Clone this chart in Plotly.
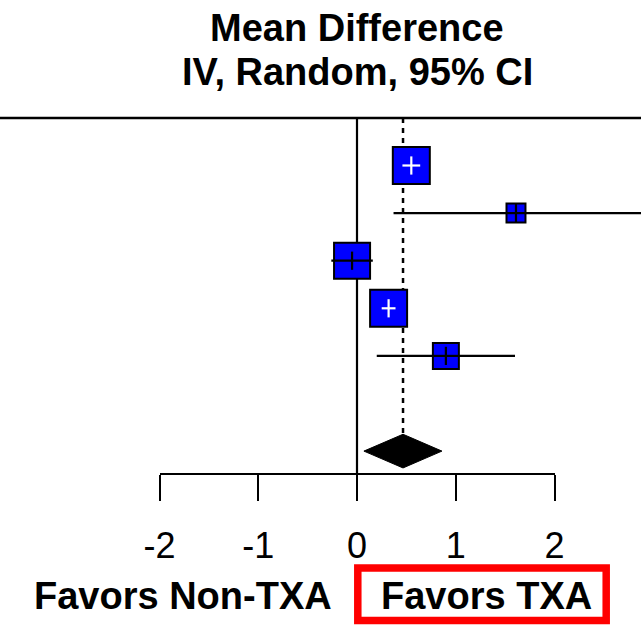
import math
import plotly.graph_objects as go

# ---------------- data ----------------
study_rows = [0, 1, 2, 3, 4]
study_md = [0.55, 1.61, -0.05, 0.32, 0.90]
study_lo = [0.46, 0.37, -0.26, 0.25, 0.20]
study_hi = [0.64, 3.20, 0.16, 0.39, 1.60]
study_weight = [26.6, 7.7, 25.3, 26.6, 13.7]

pooled_row = 6
pooled_md = 0.466
pooled_lo = 0.07
pooled_hi = 0.86

tick_values = [-2, -1, 0, 1, 2]
tick_labels = ["-2", "-1", "0", "1", "2"]

title_lines = ["Mean Difference", "IV, Random, 95% CI"]
left_label = "Favors Non-TXA"
right_label = "Favors TXA"

# ---------------- geometry / style ----------------
W, H = 641, 625
X0_PX, PX_PER_UNIT = 357.0, 98.75
ROW0_PX, PX_PER_ROW = 165.5, 47.6
x_range = [-X0_PX / PX_PER_UNIT, (W - X0_PX) / PX_PER_UNIT]
y_range = [(H - ROW0_PX) / PX_PER_ROW, -ROW0_PX / PX_PER_ROW]

TOP_ROW = -1
AXIS_PX = 474.0
AXIS_PAPER_Y = 1 - AXIS_PX / H
AXIS_ROW = (AXIS_PX - ROW0_PX) / PX_PER_ROW
DIAMOND_HALF = 0.354

FONT = "Arial, 'Liberation Sans', sans-serif"
BLUE = "#0000FF"
BOLD_SIZE = 38

sizes = [7.56 * math.sqrt(w) - 2 for w in study_weight]

fig = go.Figure()

# reference lines
fig.add_trace(go.Scatter(x=[0, 0], y=[TOP_ROW, AXIS_ROW], mode="lines",
                         line=dict(color="black", width=2.2), hoverinfo="skip"))
fig.add_trace(go.Scatter(x=[pooled_md, pooled_md], y=[TOP_ROW, pooled_row - DIAMOND_HALF],
                         mode="lines", line=dict(color="black", width=2.5, dash="5px,5px"),
                         hoverinfo="skip"))

# CI lines (black)
for r, lo, hi in zip(study_rows, study_lo, study_hi):
    fig.add_trace(go.Scatter(x=[lo, hi], y=[r, r], mode="lines",
                             line=dict(color="black", width=2.2), hoverinfo="skip"))

# squares
fig.add_trace(go.Scatter(x=study_md, y=study_rows, mode="markers",
                         marker=dict(symbol="square", size=sizes, color=BLUE, opacity=1,
                                     line=dict(color="black", width=2)),
                         hoverinfo="skip"))

# CI inside the square drawn white, otherwise black
tick_colors = []
for r, m, lo, hi, s in zip(study_rows, study_md, study_lo, study_hi, sizes):
    half = s / 2 / PX_PER_UNIT
    inside = (m - lo) < half and (hi - m) < half
    c = "white" if inside else "black"
    tick_colors.append(c)
    if inside:
        fig.add_trace(go.Scatter(x=[lo, hi], y=[r, r], mode="lines",
                                 line=dict(color="white", width=2.2), hoverinfo="skip"))
    else:
        fig.add_trace(go.Scatter(x=[max(lo, m - half), min(hi, m + half)], y=[r, r],
                                 mode="lines", line=dict(color="black", width=2.2),
                                 hoverinfo="skip"))
fig.add_trace(go.Scatter(x=study_md, y=study_rows, mode="markers",
                         marker=dict(symbol="line-ns", size=13, opacity=1,
                                     line=dict(color=tick_colors, width=2.2)),
                         hoverinfo="skip"))

# pooled diamond
fig.add_trace(go.Scatter(
    x=[pooled_lo, pooled_md, pooled_hi, pooled_md, pooled_lo],
    y=[pooled_row, pooled_row - DIAMOND_HALF, pooled_row, pooled_row + DIAMOND_HALF, pooled_row],
    mode="lines", fill="toself", fillcolor="black",
    line=dict(color="black", width=1), hoverinfo="skip"))

# invisible trace to activate the bottom scale axis
fig.add_trace(go.Scatter(x=[tick_values[0], tick_values[-1]], y=[0, 0], xaxis="x2", yaxis="y",
                         mode="markers", marker=dict(opacity=0), hoverinfo="skip"))

fig.update_layout(
    width=W, height=H, autosize=False,
    margin=dict(l=0, r=0, t=0, b=0, pad=0, autoexpand=False),
    paper_bgcolor="white", plot_bgcolor="rgba(0,0,0,0)",
    showlegend=False,
    xaxis=dict(range=x_range, visible=False, fixedrange=True, automargin=False),
    yaxis=dict(range=y_range, visible=False, fixedrange=True, automargin=False),
    xaxis2=dict(
        domain=[(X0_PX + PX_PER_UNIT * tick_values[0]) / W,
                (X0_PX + PX_PER_UNIT * tick_values[-1]) / W],
        range=[tick_values[0], tick_values[-1]],
        anchor="free", position=AXIS_PAPER_Y, automargin=False,
        showline=True, linecolor="black", linewidth=2,
        ticks="outside", ticklen=26, tickwidth=2, tickcolor="black",
        tickvals=tick_values, ticktext=tick_labels, ticklabelstandoff=14,
        tickfont=dict(family=FONT, size=36, color="black"),
        showgrid=False, zeroline=False, fixedrange=True,
    ),
    shapes=[
        dict(type="line", xref="paper", yref="y", x0=0, x1=1, y0=TOP_ROW, y1=TOP_ROW,
             line=dict(color="black", width=2.5)),
        dict(type="rect", xref="paper", yref="paper",
             x0=357.8 / W, x1=606.2 / W, y0=1 - 620.5 / H, y1=1 - 568 / H,
             line=dict(color="#FF0000", width=7.5)),
    ],
    annotations=[
        dict(text="<b>%s</b>" % title_lines[0], xref="paper", yref="paper",
             x=357 / W, y=1 - 28 / H, xanchor="center", yanchor="middle", showarrow=False,
             font=dict(family=FONT, size=BOLD_SIZE, color="black")),
        dict(text="<b>%s</b>" % title_lines[1], xref="paper", yref="paper",
             x=357 / W, y=1 - 72 / H, xanchor="center", yanchor="middle", showarrow=False,
             font=dict(family=FONT, size=BOLD_SIZE, color="black")),
        dict(text="<b>%s</b>" % left_label, xref="paper", yref="paper",
             x=183 / W, y=1 - 596 / H, xanchor="center", yanchor="middle", showarrow=False,
             font=dict(family=FONT, size=BOLD_SIZE, color="black")),
        dict(text="<b>%s</b>" % right_label, xref="paper", yref="paper",
             x=486 / W, y=1 - 596 / H, xanchor="center", yanchor="middle", showarrow=False,
             font=dict(family=FONT, size=BOLD_SIZE, color="black")),
    ],
)

fig.write_html(
    "out.html",
    config={"displayModeBar": False, "staticPlot": True, "responsive": False},
    post_script="document.body.style.margin='0px';document.documentElement.style.overflow='hidden';",
)
